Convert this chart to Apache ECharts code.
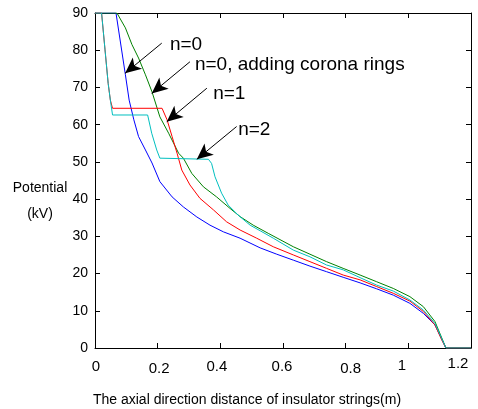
<!DOCTYPE html>
<html>
<head>
<meta charset="utf-8">
<script src="https://cdn.jsdelivr.net/npm/echarts@6/dist/echarts.min.js"></script>
<style>html,body{margin:0;padding:0;background:#fff;}#c{width:478px;height:409px;}</style>
</head>
<body>
<div id="c"></div>
<script>
// x-axis ticks
var xTicks = [0, 0.2, 0.4, 0.6, 0.8, 1, 1.2];
var yTicks = [0, 10, 20, 30, 40, 50, 60, 70, 80, 90];

// n=0 (blue)
var blueX = [0, 0.067, 0.097, 0.109, 0.124, 0.139, 0.161, 0.182, 0.207, 0.246, 0.282, 0.325, 0.367, 0.410, 0.463, 0.527, 0.580, 0.633, 0.686, 0.739, 0.792, 0.846, 0.899, 0.952, 1.005, 1.048, 1.085, 1.12, 1.2];
var blueY = [90, 90, 73.4, 66.6, 61.3, 56.8, 53.2, 49.7, 44.7, 40.6, 37.9, 35.2, 33.0, 31.2, 29.5, 26.9, 25.2, 23.6, 22.0, 20.5, 19.0, 17.5, 15.9, 14.2, 12.0, 9.3, 6.2, 0, 0];

// n=0, adding corona rings (green)
var greenX = [0, 0.070, 0.097, 0.118, 0.139, 0.161, 0.182, 0.207, 0.235, 0.267, 0.282, 0.309, 0.346, 0.388, 0.431, 0.463, 0.505, 0.553, 0.633, 0.686, 0.739, 0.792, 0.846, 0.899, 0.952, 1.005, 1.048, 1.085, 1.12, 1.2];
var greenY = [90, 90, 86.0, 81.5, 77.9, 73.4, 68.8, 62.1, 57.7, 52.3, 51.0, 46.9, 43.3, 40.6, 37.5, 35.3, 33.0, 30.8, 27.2, 25.2, 23.2, 21.4, 19.6, 17.8, 16.0, 13.8, 11.1, 7.1, 0, 0];

// n=1 (red)
var redX = [0, 0.021, 0.032, 0.042, 0.049, 0.056, 0.214, 0.230, 0.246, 0.262, 0.277, 0.303, 0.335, 0.378, 0.420, 0.463, 0.516, 0.569, 0.633, 0.686, 0.739, 0.792, 0.846, 0.899, 0.952, 1.005, 1.048, 1.085, 1.107, 1.12, 1.2];
var redY = [90, 90, 80.1, 71.1, 66.6, 64.4, 64.4, 61.3, 56.8, 52.3, 47.8, 43.8, 40.2, 37.1, 33.9, 31.7, 29.5, 27.2, 25.0, 23.2, 21.4, 19.6, 18.3, 16.5, 14.7, 12.6, 9.8, 6.2, 2.1, 0, 0];

// n=2 (cyan)
var cyanX = [0, 0.021, 0.032, 0.042, 0.049, 0.056, 0.168, 0.181, 0.197, 0.207, 0.362, 0.372, 0.383, 0.404, 0.425, 0.457, 0.495, 0.527, 0.569, 0.633, 0.686, 0.739, 0.792, 0.846, 0.899, 0.952, 1.005, 1.048, 1.085, 1.12, 1.2];
var cyanY = [90, 90, 80.1, 71.1, 66.6, 62.6, 62.6, 57.7, 53.2, 51.0, 50.7, 49.6, 46.0, 41.6, 38.4, 35.7, 33.0, 31.5, 29.5, 26.3, 24.5, 22.3, 21.0, 18.9, 16.9, 15.3, 12.9, 10.2, 6.6, 0, 0];

// annotations: text, text anchor (x,y), arrow start (x,y), arrow tip (x,y)
var annoText = ['n=0', 'n=0, adding corona rings', 'n=1', 'n=2'];
var annoTextX = [0.239, 0.319, 0.377, 0.457];
var annoTextY = [81.4, 76.0, 68.3, 58.6];
var arrowFromX = [0.213, 0.303, 0.357, 0.452];
var arrowFromY = [81.9, 76.9, 69.8, 59.5];
var arrowToX = [0.096, 0.181, 0.229, 0.325];
var arrowToY = [73.8, 68.4, 60.8, 50.7];

function zip(xs, ys) { return xs.map(function (x, i) { return [x, ys[i]]; }); }

var FONT = '"Liberation Sans", Arial, sans-serif';
var chart = echarts.init(document.getElementById('c'), null, { renderer: 'canvas' });

var markLineData = arrowFromX.map(function (x, i) {
  return [{ coord: [x, arrowFromY[i]] }, { coord: [arrowToX[i], arrowToY[i]] }];
});
var markPointData = annoText.map(function (t, i) {
  return { coord: [annoTextX[i], annoTextY[i]], value: t };
});

var xRichKeys = ['a0', 'a1', 'a2', 'a3', 'a4', 'a5', 'a6'];
var xRich = {
  a0: { padding: [3, 0, 0, 2] },
  a1: { padding: [5, 0, 0, 3] },
  a2: { padding: [3, 7, 0, 0] },
  a3: { padding: [3, 2, 0, 0] },
  a4: { padding: [5, 0, 0, 10] },
  a5: { padding: [2, 13, 0, 0] },
  a6: { padding: [0, 26, 0, 0] }
};
Object.keys(xRich).forEach(function (k) {
  xRich[k].fontSize = 15; xRich[k].fontFamily = FONT; xRich[k].color = '#000';
});

var tickStyle = { show: true, inside: true, length: 5, lineStyle: { color: '#000', width: 1 } };
var lineAxis = { show: true, onZero: false, lineStyle: { color: '#000', width: 1 } };

var option = {
  animation: false,
  backgroundColor: '#fff',
  grid: { left: 95, right: 7, top: 13, bottom: 61, containLabel: false },
  xAxis: [
    {
      type: 'value', position: 'bottom', min: 0, max: 1.2, interval: 0.2,
      axisLine: lineAxis, axisTick: tickStyle, splitLine: { show: false },
      axisLabel: {
        margin: 8,
        formatter: function (v, i) {
          var idx = xTicks.indexOf(Math.round(v * 10) / 10);
          if (idx < 0) idx = i;
          return '{' + xRichKeys[idx] + '|' + xTicks[idx] + '}';
        },
        rich: xRich
      }
    },
    {
      type: 'value', position: 'top', min: 0, max: 1.2, interval: 0.2,
      axisLine: lineAxis, axisTick: tickStyle, splitLine: { show: false },
      axisLabel: { show: false }
    }
  ],
  yAxis: [
    {
      type: 'value', position: 'left', min: 0, max: 90, interval: 10,
      axisLine: lineAxis, axisTick: tickStyle, splitLine: { show: false },
      axisLabel: { margin: 7, fontSize: 14, fontFamily: FONT, color: '#000' }
    },
    {
      type: 'value', position: 'right', min: 0, max: 90, interval: 10,
      axisLine: lineAxis, axisTick: tickStyle, splitLine: { show: false },
      axisLabel: { show: false }
    }
  ],
  graphic: [
    { type: 'text', style: { text: 'Potential', x: 40, y: 188, align: 'center', verticalAlign: 'middle', fontSize: 14, fontFamily: FONT, fill: '#000' } },
    { type: 'text', style: { text: '(kV)', x: 40, y: 214, align: 'center', verticalAlign: 'middle', fontSize: 14, fontFamily: FONT, fill: '#000' } },
    { type: 'text', style: { text: 'The axial direction distance of insulator strings(m)', x: 247, y: 400, align: 'center', verticalAlign: 'middle', fontSize: 14, fontFamily: FONT, fill: '#000' } }
  ],
  series: [
    {
      name: 'n=0', type: 'line', data: zip(blueX, blueY), showSymbol: false, symbol: 'none',
      lineStyle: { color: '#0000ff', width: 1 }, z: 2,
      markLine: {
        silent: true, symbol: ['none', 'arrow'], symbolSize: [11, 16],
        lineStyle: { color: '#000', width: 1, type: 'solid' },
        label: { show: false }, data: markLineData, z: 10
      },
      markPoint: {
        silent: true, symbol: 'circle', symbolSize: 0,
        label: {
          show: true, position: 'right', distance: 0, fontSize: 19, fontFamily: FONT, color: '#000',
          formatter: function (p) { return p.value; }
        },
        data: markPointData
      }
    },
    { name: 'n=0, adding corona rings', type: 'line', data: zip(greenX, greenY), showSymbol: false, symbol: 'none', lineStyle: { color: '#008000', width: 1 }, z: 3 },
    { name: 'n=1', type: 'line', data: zip(redX, redY), showSymbol: false, symbol: 'none', lineStyle: { color: '#ff0000', width: 1 }, z: 4 },
    { name: 'n=2', type: 'line', data: zip(cyanX, cyanY), showSymbol: false, symbol: 'none', lineStyle: { color: '#00bfbf', width: 1 }, z: 5 }
  ]
};
chart.setOption(option);
</script>
</body>
</html>
